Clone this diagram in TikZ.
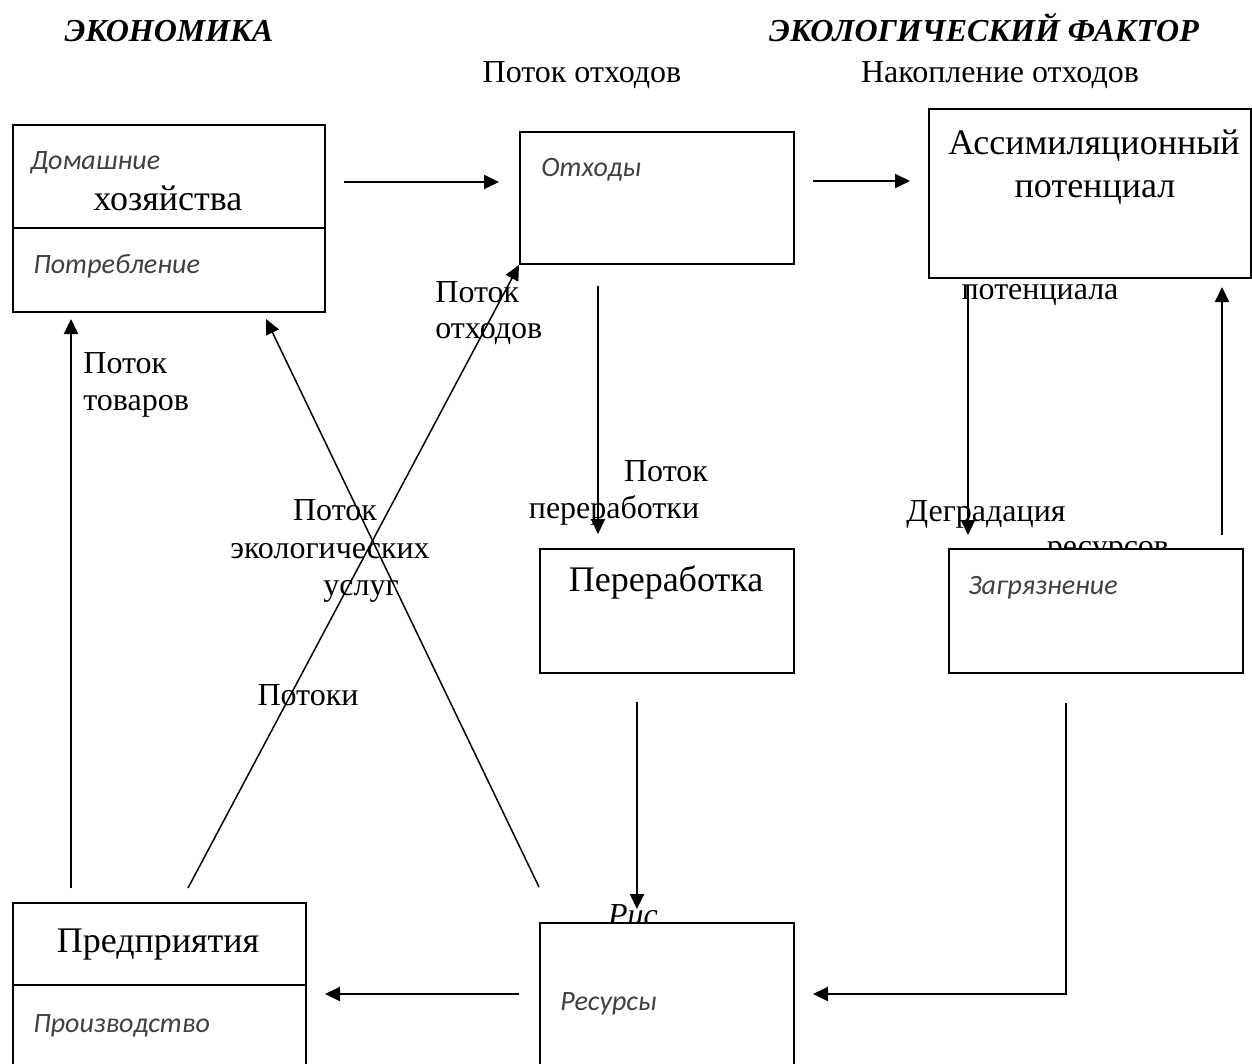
\documentclass[tikz,border=0pt]{standalone}
\usepackage{fontspec}
\setmainfont{Liberation Serif}
\newfontfamily\notefont{Carlito}
\usetikzlibrary{arrows.meta}
\definecolor{notegray}{RGB}{64,64,64}
\tikzset{
  block/.style = {draw, line width = 1pt, fill = white, inner sep = 0pt, anchor = north west},
  flow/.style = {line width = 1pt, -{Triangle[length = 7.5pt, width = 7pt]}},
  cross/.style = {line width = 0.75pt, -{Triangle[length = 7.5pt, width = 7pt]}},
  note/.style = {anchor = west, inner sep = 0pt, text = notegray, text height = 7pt, text depth = 2pt, font = \notefont\itshape\fontsize{14}{16}\selectfont},
  title/.style = {inner sep = 0pt, text height = 12pt, text depth = 3pt, font = \fontsize{18}{21}\selectfont},
  lbl/.style = {inner sep = 0pt, text height = 10pt, text depth = 2.5pt, font = \fontsize{16}{19}\selectfont},
  head/.style = {inner sep = 0pt, text height = 10pt, text depth = 2.5pt, font = \bfseries\itshape\fontsize{16}{19}\selectfont}
}
\begin{document}
\begin{tikzpicture}[x = 0.5pt, y = -0.5pt]
\useasboundingbox (0, 0) rectangle (1252, 1064);
\clip (0, 0) rectangle (1252, 1064);
%\draw [very thin, color = gray] (0, 0) grid [step = 100] (1252, 1064);
\node [head] (econ) at (169, 34) {ЭКОНОМИКА};
\node [head] (ecol) at (984, 34) {ЭКОЛОГИЧЕСКИЙ ФАКТОР};
\node [lbl] (wasteflow) at (582, 75) {Поток отходов};
\node [lbl] (wastestock) at (1000, 75) {Накопление отходов};
% labels partly under the boxes
\node [lbl, anchor = base] (degr2) at (1108, 556) {ресурсов};
\node [lbl, anchor = base, font = \itshape\fontsize{16}{19}\selectfont] (fig) at (633, 925) {Рис};
% boxes
\node [block, minimum width = 156pt, minimum height = 93.5pt] (house) at (12, 124) {};
\draw [line width = 1pt] (house.west |- 0, 228) to (house.east |- 0, 228);
\node [block, minimum width = 137pt, minimum height = 66pt] (waste) at (519, 131) {};
\node [block, minimum width = 161pt, minimum height = 84.5pt] (assim) at (928, 108) {};
\node [block, minimum width = 127pt, minimum height = 62pt] (recyc) at (539, 548) {};
\node [block, minimum width = 147pt, minimum height = 62pt] (pollut) at (948, 548) {};
\node [block, minimum width = 127pt, minimum height = 84pt] (res) at (539, 922) {};
\node [block, minimum width = 146.5pt, minimum height = 94pt] (firm) at (12, 902) {};
\draw [line width = 1pt] (firm.west |- 0, 985) to (firm.east |- 0, 985);
% texts in the boxes
\node [note] (houseA) at (30, 165) {Домашние};
\node [title] (houseB) at (168, 202) {хозяйства};
\node [note] (houseC) at (33, 268) {Потребление};
\node [note] (wasteA) at (541, 172) {Отходы};
\node [title] (assimA) at (1094, 146) {Ассимиляционный};
\node [title] (assimB) at (1095, 189) {потенциал};
\node [title] (recycA) at (666, 582) {Переработка};
\node [note] (pollutA) at (968, 589) {Загрязнение};
\node [note] (resA) at (560, 1005) {Ресурсы};
\node [title] (firmA) at (158, 943) {Предприятия};
\node [note] (firmB) at (33, 1027) {Производство};
% flow labels
\node [lbl] (potA) at (1040, 292) {потенциала};
\node [lbl, anchor = west] (goodsA) at (83, 366) {Поток};
\node [lbl, anchor = west] (goodsB) at (83, 403) {товаров};
\node [lbl, anchor = west] (wasteB) at (435, 295) {Поток};
\node [lbl, anchor = west] (wasteC) at (435, 331) {отходов};
\node [lbl] (recflowA) at (666, 474) {Поток};
\node [lbl] (recflowB) at (614, 511) {переработки};
\node [lbl] (degr1) at (986, 514) {Деградация};
\node [lbl] (ecoA) at (335, 513) {Поток};
\node [lbl] (ecoB) at (330, 551) {экологических};
\node [lbl] (ecoC) at (361, 588) {услуг};
\node [lbl] (flows) at (308, 698) {Потоки};
% arrow ends
\coordinate (hw0) at (344, 182);
\coordinate (hw1) at (499, 182);
\coordinate (wa0) at (813, 181);
\coordinate (wa1) at (910, 181);
\coordinate (wr0) at (598, 286);
\coordinate (wr1) at (598, 534);
\coordinate (rr0) at (637, 702);
\coordinate (rr1) at (637, 909);
\coordinate (ap0) at (968, 285);
\coordinate (ap1) at (968, 535);
\coordinate (pa0) at (1222, 535);
\coordinate (pa1) at (1222, 287);
\coordinate (pr0) at (1066, 703);
\coordinate (pr1) at (813, 994);
\coordinate (rf0) at (519, 994);
\coordinate (rf1) at (325, 994);
\coordinate (fh0) at (71, 888);
\coordinate (fh1) at (71, 319);
\coordinate (fw0) at (188, 888);
\coordinate (rh0) at (539, 887);
\coordinate (rh1) at (266, 319);
\draw [flow] (hw0) to (hw1);
\draw [flow] (wa0) to (wa1);
\draw [flow] (wr0) to (wr1);
\draw [flow] (rr0) to (rr1);
\draw [flow] (ap0) to (ap1);
\draw [flow] (pa0) to (pa1);
\draw [flow] (pr0) |- (pr1);
\draw [flow] (rf0) to (rf1);
\draw [flow] (fh0) to (fh1);
\draw [cross] (fw0) to (waste.south west);
\draw [cross] (rh0) to (rh1);
\end{tikzpicture}
\end{document}
